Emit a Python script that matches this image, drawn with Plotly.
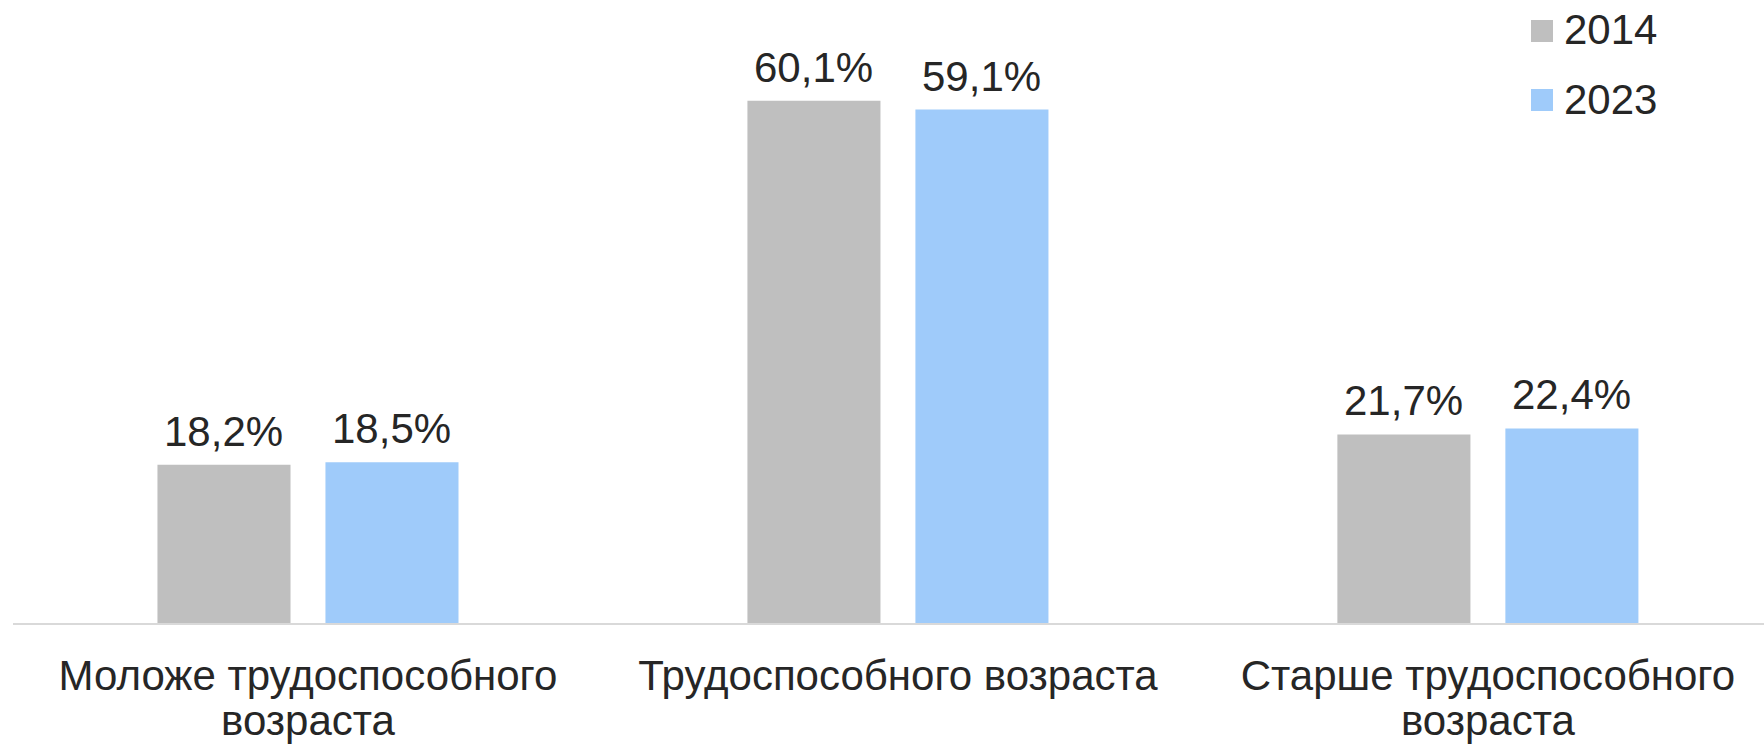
import plotly.graph_objects as go

category_lines = [["Моложе трудоспособного", "возраста"], ["Трудоспособного возраста"], ["Старше трудоспособного", "возраста"]]
series_names = ["2014", "2023"]
values_2014 = [18.2, 60.1, 21.7]
values_2023 = [18.5, 59.1, 22.4]
labels_2014 = ["18,2%", "60,1%", "21,7%"]
labels_2023 = ["18,5%", "59,1%", "22,4%"]
colors = ["#BFBFBF", "#9FCBFA"]

FONT = "Liberation Sans, Arial, sans-serif"
TXT = "#262626"
FS = 42
x_idx = list(range(len(category_lines)))
# tick labels: glyphs at FS, tighter line spacing via smaller base font
ticktext = ["<br>".join(f"<span style='font-size:{FS}px'>{ln}</span>" for ln in lines) for lines in category_lines]

fig = go.Figure()
for name, vals, col in zip(series_names, [values_2014, values_2023], colors):
    fig.add_trace(go.Bar(x=x_idx, y=vals, name=name, marker=dict(color=col, line=dict(width=0)),
                         showlegend=False, hoverinfo="skip"))

bargap = 0.4305
slot = (1 - bargap) / 2
offsets = [-slot / 2, slot / 2]
annotations = []
for off, vals, labs in zip(offsets, [values_2014, values_2023], [labels_2014, labels_2023]):
    for i, (v, t) in enumerate(zip(vals, labs)):
        annotations.append(dict(x=i + off, y=v, xref="x", yref="y", text=t, showarrow=False,
                                yanchor="bottom", xanchor="center", yshift=8,
                                font=dict(family=FONT, size=FS, color=TXT)))

# manual legend (top right)
leg_ys = [31, 100]
shapes = []
for name, col, yc in zip(series_names, colors, leg_ys):
    shapes.append(dict(type="rect", xref="paper", yref="paper",
                       x0=(1531 - 13) / 1751, x1=(1553 - 13) / 1751,
                       y0=(623 - (yc + 11)) / 583, y1=(623 - (yc - 11)) / 583,
                       fillcolor=col, line=dict(width=0)))
    annotations.append(dict(x=(1562 - 13) / 1751, y=(623 - yc + 1) / 583, xref="paper", yref="paper",
                            text=name, showarrow=False, xanchor="left", yanchor="middle",
                            font=dict(family=FONT, size=FS, color=TXT)))

fig.update_layout(
    width=1764, height=744,
    margin=dict(l=13, r=0, t=40, b=121),
    paper_bgcolor="white", plot_bgcolor="white",
    barmode="group", bargap=bargap, bargroupgap=0.208,
    annotations=annotations, shapes=shapes,
    font=dict(family=FONT, size=FS, color=TXT),
    xaxis=dict(range=[-0.5, 2.468], tickmode="array", tickvals=x_idx, ticktext=ticktext,
               showline=True, linecolor="#D9D9D9", linewidth=2, showgrid=False, zeroline=False,
               ticks="", ticklabelstandoff=23, tickfont=dict(family=FONT, size=34.6, color=TXT)),
    yaxis=dict(range=[0, 67.1], visible=False, showgrid=False, zeroline=False),
)

fig.write_html("out.html", config={"displayModeBar": False},
               post_script="document.body.style.margin='0';document.body.style.overflow='hidden';")
